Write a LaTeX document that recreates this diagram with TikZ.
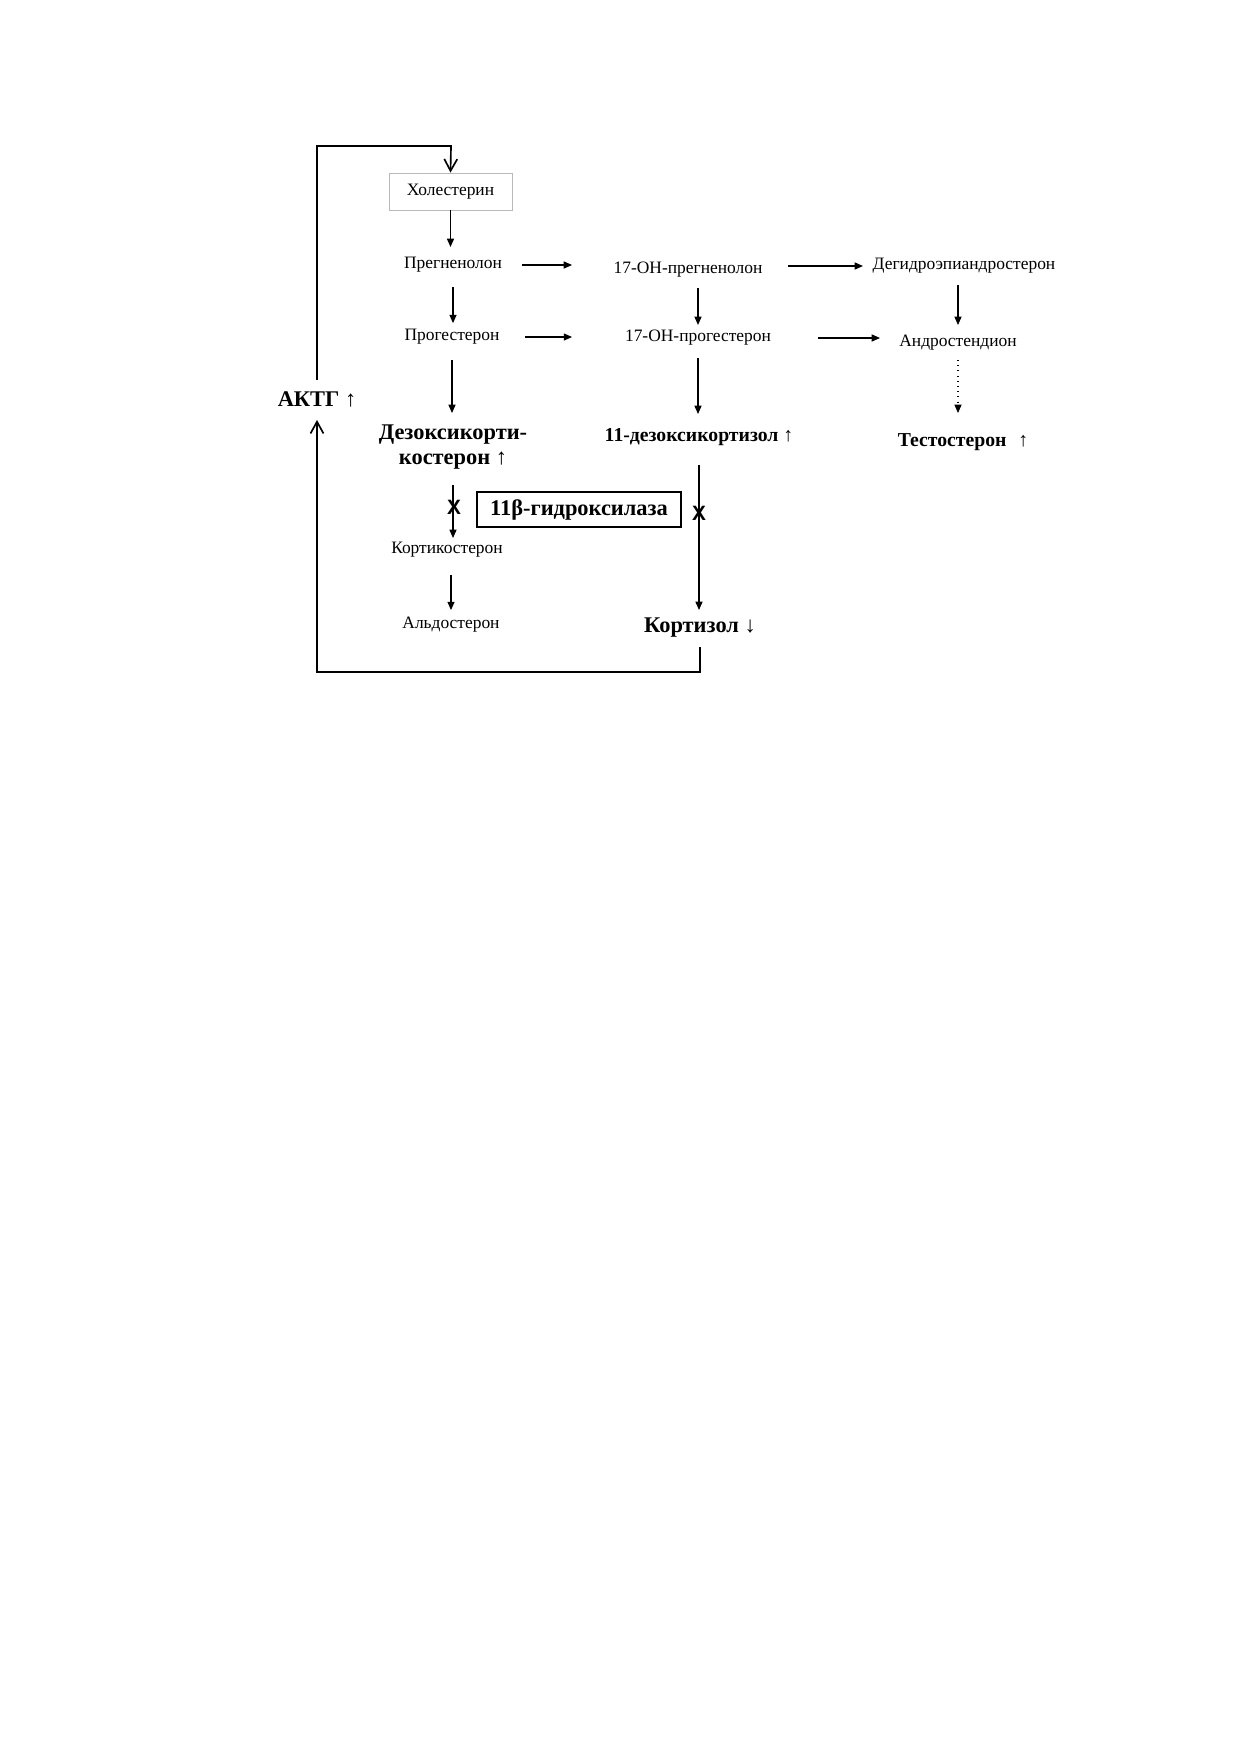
\documentclass[tikz,border=0pt]{standalone}
\usepackage{fontspec}
\setmainfont{Liberation Serif}
\newfontfamily\crossfont{Liberation Sans}
\usepackage{tikz}
\usetikzlibrary{arrows.meta}

\begin{document}
\begin{tikzpicture}[x=0.16935mm, y=-0.16935mm,
    txt/.style={inner sep=0pt, font=\fontsize{8.4}{10}\selectfont},
    mid/.style={inner sep=0pt, font=\fontsize{9.5}{11}\selectfont\bfseries},
    big/.style={inner sep=0pt, font=\fontsize{10.8}{12.2}\selectfont\bfseries},
    cross/.style={inner sep=0pt, font=\crossfont\fontsize{10}{12}\selectfont\bfseries},
    arr/.style={line width=0.5pt, -{Triangle[length=1.4mm, width=1.2mm]}},
    back/.style={line width=0.8pt, -{Straight Barb[length=2mm, width=2.2mm]}}]
        % Page
        \path[fill=white, use as bounding box] (0,0) rectangle (1240,1754);

        % Left column
        \node[txt, draw=gray!55, line width=0.4pt, minimum width=20.83mm, minimum height=6.27mm] (chol) at (450.5,191.5) {Холестерин};
        \node[txt] (preg) at (453,265) {Прегненолон};
        \node[txt] (prog) at (452,337) {Прогестерон};
        \node[big, align=center] (doc) at (453,447) {Дезоксикорти-\\костерон ↑};
        \node[txt] (cortico) at (447,550) {Кортикостерон};
        \node[txt] (aldo) at (451,625) {Альдостерон};

        % Middle column
        \node[txt] (ohpreg) at (688,270) {17-ОН-прегненолон};
        \node[txt] (ohprog) at (698,338) {17-ОН-прогестерон};
        \node[mid] (deoxy) at (699,437) {11-дезоксикортизол ↑};
        \node[big] (cortisol) at (700,628) {Кортизол ↓};

        % Right column
        \node[txt] (dhea) at (964,266) {Дегидроэпиандростерон};
        \node[txt] (andro) at (958,343) {Андростендион};
        \node[mid] (testo) at (963,442) {Тестостерон\hspace{0.6em}↑};

        % Feedback and enzyme
        \node[big] (actg) at (317,399) {АКТГ ↑};
        \node[big, draw, line width=1pt, minimum width=34.55mm, minimum height=5.93mm] (hydr) at (579,509.5) {11β-гидроксилаза};
        \node[cross] (xleft) at (454,507) {X};
        \node[cross] (xright) at (699,513) {X};

        % Steps down the left column
        \draw[arr, shorten >=8.7pt] (chol.south) -- (chol.south |- preg.center);
        \draw[arr, shorten <=10.6pt, shorten >=6.7pt] (preg.center) -- (preg.center |- prog.center);
        \draw[arr, shorten <=11.1pt, shorten >=16.4pt] (prog.center) -- (prog.center |- doc.center);
        \draw[arr, shorten <=18.3pt, shorten >=5.8pt] (doc.center) -- (doc.center |- cortico.center);
        \draw[arr, shorten <=12pt, shorten >=7.2pt] (aldo.center |- cortico.center) -- (aldo.center);

        % Steps to the middle column
        \draw[arr, shorten <=33.2pt, shorten >=55.9pt] (preg.center) -- (preg.center -| ohpreg.center);
        \draw[arr, shorten <=35.2pt, shorten >=60.7pt] (prog.center) -- (prog.center -| ohprog.center);
        \draw[arr, shorten <=8.7pt, shorten >=6.3pt] (ohprog.center |- ohpreg.center) -- (ohprog.center);
        \draw[arr, shorten <=9.6pt, shorten >=11.1pt] (ohprog.center) -- (ohprog.center |- deoxy.center);
        \draw[arr, shorten <=13.5pt, shorten >=8.7pt] (deoxy.center) -- (deoxy.center |- cortisol.center);

        % Steps to the right column
        \draw[arr, shorten <=48.2pt, shorten >=48.7pt] (dhea.center -| ohpreg.center) -- (dhea.center);
        \draw[arr, shorten <=57.8pt, shorten >=37.6pt] (ohprog.center) -- (ohprog.center -| andro.center);
        \draw[arr, shorten <=9.2pt, shorten >=8.7pt] (andro.center |- dhea.center) -- (andro.center);
        \draw[arr, dotted, shorten <=8.2pt, shorten >=14pt] (andro.center) -- (andro.center |- testo.center);

        % Feedback loop
        \coordinate (loopbot) at (317,672);
        \coordinate (looptop) at (451,146);
        \draw[back, shorten <=9.2pt, shorten >=10.1pt] (cortisol.center) |- (loopbot) -- (actg.center);
        \draw[back, shorten <=9.2pt] (actg.center) |- (looptop) -- (chol.north);
\end{tikzpicture}
\end{document}
